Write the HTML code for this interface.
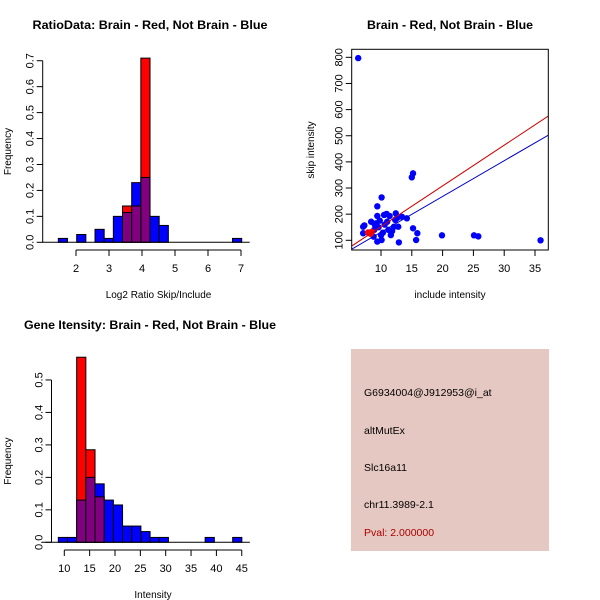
<!DOCTYPE html>
<html><head><meta charset="utf-8">
<style>
body{margin:0;background:#fff;}
svg{display:block;font-family:"Liberation Sans",Arial,sans-serif;}
text{fill:#000;}
</style></head>
<body>
<svg id="c" width="600" height="600" viewBox="0 0 600 600"></svg>
<script>
// ---- data: ratio histogram ----
const ratioStart = 1.465, ratioWidth = 0.2778;
const ratioBlue = [0.015,0,0.03,0,0.05,0.015,0.1,0.115,0.23,0.25,0.1,0.065,0,0,0,0,0,0,0,0.015];
const ratioRed  = [0,0,0,0,0,0,0,0.14,0.14,0.71,0,0,0,0,0,0,0,0,0,0];
const ratioXTicks = [2,3,4,5,6,7];
const ratioYTicks = [0,0.1,0.2,0.3,0.4,0.5,0.6,0.7];
// ---- data: intensity histogram ----
const intStart = 8.82, intWidth = 1.81;
const intBlue = [0.015,0.015,0.13,0.2,0.18,0.13,0.115,0.05,0.05,0.033,0.015,0.015,0,0,0,0,0.015,0,0,0.015];
const intRed  = [0,0,0.57,0.285,0.14,0,0,0,0,0,0,0,0,0,0,0,0,0,0,0];
const intXTicks = [10,15,20,25,30,35,40,45];
const intYTicks = [0,0.1,0.2,0.3,0.4,0.5];
// ---- data: scatter ----
const blueX = [6.3,7.1,7.3,7.1,8.4,9.4,9.4,10.1,9.0,9.6,8.8,9.4,10.1,10.3,10.5,10.9,11.4,11.0,11.2,11.6,12.1,12.4,12.3,12.8,13.4,14.2,12.9,15.0,15.2,15.2,15.9,15.7,19.9,25.1,25.8,35.9,9.8,10.6,11.8,9.2,10.0,12.6,8.9];
const blueY = [797,152,157,127,171,230,193,264,159,150,114,95,101,129,197,201,193,171,140,120,152,203,178,152,190,184,92,341,356,146,127,101,119,119,115,100,175,160,135,165,120,185,140];
const redX = [7.9,8.2,8.5,8.3];
const redY = [130,128,132,125];
const fitSlope = [15.58,13.67];
const fitIntercept = [-3.6,-5.6];
const scXTicks = [10,15,20,25,30,35];
const scYTicks = [100,200,300,400,500,600,700,800];

const NS="http://www.w3.org/2000/svg";
const svg=document.getElementById('c');
function mk(tag,attrs,parent){const e=document.createElementNS(NS,tag);for(const k in attrs)e.setAttribute(k,attrs[k]);(parent||svg).appendChild(e);return e;}
function txt(s,x,y,size,opts){const t=mk('text',Object.assign({x:x,y:y,'font-size':size,'text-anchor':'middle'},opts||{}));t.textContent=s;return t;}

function histogram(name,start,width,blue,red,xTicks,yTicks,sx,sy,xAxisY,yAxisX,xLabel,yLabel,title,titleY,xLabY){
  const g=mk('g',{});
  
  
  const n=blue.length;
  for(let i=0;i<n;i++){
    const x0=sx(start+i*width), x1=sx(start+(i+1)*width);
    const b=blue[i], r=red[i];
    const hi=Math.max(b,r), lo=Math.min(b,r);
    if(hi>0){
      const rc=mk('rect',{x:x0,y:sy(hi),width:x1-x0,height:sy(0)-sy(hi),fill:r>b?'#ff0000':'#0000ff',stroke:'#000','stroke-width':1},g);
      
      
    }
    if(lo>0){
      const pc=mk('rect',{x:x0,y:sy(lo),width:x1-x0,height:sy(0)-sy(lo),fill:'#800080',stroke:'#000','stroke-width':1},g);
      
      
    }
  }
  mk('line',{x1:sx(start)-16,x2:sx(start+n*width)+8,y1:sy(0),y2:sy(0),stroke:'#000','stroke-width':1},g);
  const xa=mk('g',{},g);
  
  
  mk('line',{x1:sx(xTicks[0]),x2:sx(xTicks[xTicks.length-1]),y1:xAxisY,y2:xAxisY,stroke:'#000'},xa);
  xTicks.forEach(v=>{mk('line',{x1:sx(v),x2:sx(v),y1:xAxisY,y2:xAxisY+6,stroke:'#000'},xa);txt(String(v),sx(v),xAxisY+22,11,{});});
  const ya=mk('g',{},g);
  
  
  mk('line',{x1:yAxisX,x2:yAxisX,y1:sy(yTicks[0]),y2:sy(yTicks[yTicks.length-1]),stroke:'#000'},ya);
  yTicks.forEach(v=>{mk('line',{x1:yAxisX-6,x2:yAxisX,y1:sy(v),y2:sy(v),stroke:'#000'},ya);const y=sy(v);const t=txt(v.toFixed(1),yAxisX-9,y,11,{transform:'rotate(-90 '+(yAxisX-9)+' '+y+')'});});
  txt(xLabel,(sx(xTicks[0])+sx(xTicks[xTicks.length-1]))/2,xLabY,10,{});
  const yc=(sy(yTicks[0])+sy(yTicks[yTicks.length-1]))/2;
  const yt=txt(yLabel,11,yc,10,{transform:'rotate(-90 11 '+yc+')'});
  
  const tt=txt(title,150,titleY,12,{'font-weight':'bold',textLength:title.length>42?252:235,lengthAdjust:'spacingAndGlyphs'});
  
}

histogram('ratio-histogram',ratioStart,ratioWidth,ratioBlue,ratioRed,ratioXTicks,ratioYTicks,
  v=>76+(v-2)*33, v=>242.3-v*259.4, 250, 42.7,
  'Log2 Ratio Skip/Include','Frequency','RatioData: Brain - Red, Not Brain - Blue',29,298);
histogram('intensity-histogram',intStart,intWidth,intBlue,intRed,intXTicks,intYTicks,
  v=>64.3+(v-10)*5.07, v=>542.3-v*324.7, 550, 51.5,
  'Intensity','Frequency','Gene Itensity: Brain - Red, Not Brain - Blue',329,598);

(function(){
  const sx=v=>381+(v-10)*6.16, sy=v=>240.3-(v-100)*0.2614;
  const L=351.7,R=548.3,T=49.3,B=250;
  const g=mk('g',{});
  
  
  const clip=mk('clipPath',{id:'sc'},g);mk('rect',{x:L,y:T,width:R-L,height:B-T},clip);
  const pg=mk('g',{'clip-path':'url(#sc)'},g);
  blueX.forEach((x,i)=>{const c=mk('circle',{cx:sx(x),cy:sy(blueY[i]),r:3.2,fill:'#0000ff'},pg);});
  redX.forEach((x,i)=>{const c=mk('circle',{cx:sx(x),cy:sy(redY[i]),r:3.2,fill:'#ff0000'},pg);});
  const cols=['#cc0000','#0000cc'];
  const x0=(L-381)/6.16+10, x1=(R-381)/6.16+10;
  fitSlope.forEach((s,i)=>{const l=mk('line',{x1:sx(x0),y1:sy(fitIntercept[i]+s*x0),x2:sx(x1),y2:sy(fitIntercept[i]+s*x1),stroke:cols[i],'stroke-width':1},pg);});
  mk('rect',{x:L,y:T,width:R-L,height:B-T,fill:'none',stroke:'#000'},g);
  scXTicks.forEach(v=>{mk('line',{x1:sx(v),x2:sx(v),y1:B,y2:B+6,stroke:'#000'},g);txt(String(v),sx(v),B+22,11,{});});
  scYTicks.forEach(v=>{const y=sy(v);mk('line',{x1:L-6,x2:L,y1:y,y2:y,stroke:'#000'},g);txt(String(v),L-9,y,11,{transform:'rotate(-90 '+(L-9)+' '+y+')'});});
  txt('include intensity',450,298,10,{});
  txt('skip intensity',314,150,10,{transform:'rotate(-90 314 150)'});
  txt('Brain - Red, Not Brain - Blue',450,29,12,{'font-weight':'bold',textLength:166,lengthAdjust:'spacingAndGlyphs'});
})();

(function(){
  const g=mk('g',{});
  
  
  mk('rect',{x:351,y:349,width:198,height:202,fill:'#e6c8c2'},g);
  const lines=[['G6934004@J912953@i_at',396,'#000'],['altMutEx',434,'#000'],['Slc16a11',471,'#000'],['chr11.3989-2.1',508,'#000'],['Pval: 2.000000',536,'#aa0000']];
  lines.forEach(l=>{const t=txt(l[0],364,l[1],10.5,{'text-anchor':'start',style:'fill:'+l[2]});});
})();
</script>
</body></html>
